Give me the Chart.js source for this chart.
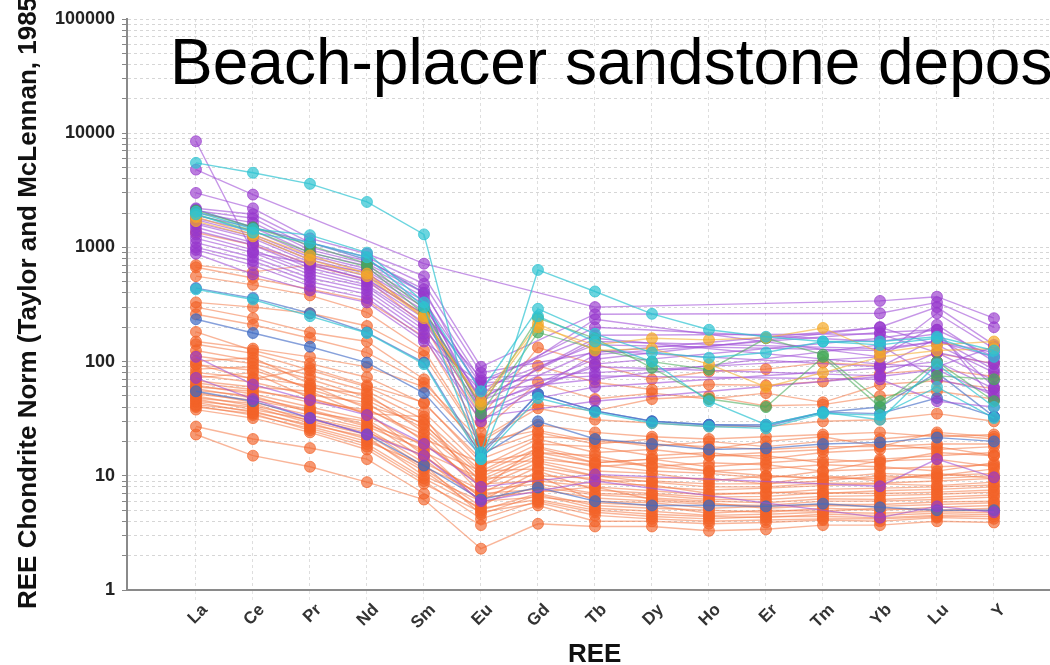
<!DOCTYPE html>
<html lang="en">
<head>
<meta charset="UTF-8">
<title>Beach-placer sandstone deposits - REE</title>
<script src="https://cdn.jsdelivr.net/npm/chart.js@4"></script>
<style>
  html, body { margin: 0; padding: 0; background: #fff; overflow: hidden; }
  #wrap { position: relative; width: 1050px; height: 665px; overflow: hidden; }
  #chart { position: absolute; left: 0; top: 0; }
  .txt { position: absolute; white-space: nowrap; font-family: "Liberation Sans", Arial, sans-serif; color: #000; line-height: 1; }
  #title { left: 170px; top: 30px; font-size: 64px; }
  #ytitle { left: 14px; top: 609px; font-size: 26px; font-weight: bold; color: #111; transform-origin: 0 0; transform: rotate(-90deg); }
  #xtitle { left: 568px; top: 640px; font-size: 26px; font-weight: bold; color: #111; }
</style>
</head>
<body>
<div id="wrap">
  <canvas id="chart" width="1110" height="665"></canvas>
  <div class="txt" id="title">Beach-placer sandstone deposits</div>
  <div class="txt" id="ytitle">REE Chondrite Norm (Taylor and McLennan, 1985)</div>
  <div class="txt" id="xtitle">REE</div>
</div>
<script>
// elements on the x axis
const categories = ['La', 'Ce', 'Pr', 'Nd', 'Sm', 'Eu', 'Gd', 'Tb', 'Dy', 'Ho', 'Er', 'Tm', 'Yb', 'Lu', 'Y'];
// labelled decades on the log axis
const yTickLabels = [1, 10, 100, 1000, 10000, 100000];

// one row per sample, values in category order (null = not analysed)
const cyanSeries = [
  [5500, 4500, 3600, 2500, 1300, 16, 635, 411, 262, 190, 165, 150, 140, 160, 110],
  [2050, 1450, 1280, 900, 330, 55, 290, 175, 120, 108, 120, 150, 150, 165, 125],
  [1950, 1350, 1100, 820, 300, 14, 250, 150, 100, 45, 28, 36, 31, 95, 40],
  [430, 350, 250, 178, 95, 14, 48, 36, 29, 27, 26, 35, 34, 60, 32]
];
const yellowSeries = [
  [1850, 1300, 850, 590, 250, 42, 200, 140, 160, 155, 162, 197, 120, 140, 150],
  [1700, 1250, 780, 560, 240, 45, 215, 125, 130, 95, 60, 80, 110, 125, 130]
];
const greenSeries = [
  [2100, 1500, 1040, 720, 290, 40, 240, 160, 88, 47, 40, 110, 40, 100, 45],
  [1950, 1400, 900, 680, 260, 35, 180, 130, 100, 85, 160, 115, 45, 75, 70]
];
const purpleSeries = [
  [8500, 900, 720, 520, 260, 48, null, 150, null, null, null, null, 130, 150, 110],
  [4800, 2900, null, null, 720, null, null, 300, null, null, null, null, 340, 370, 240],
  [3000, 2200, 1200, 880, 560, 90, null, 260, null, null, null, null, 265, 330, 200],
  [2200, 1950, 1100, 820, 480, 80, null, 120, null, null, null, null, 200, 300, 140],
  [2100, 1800, 1000, 760, 430, 52, null, 235, null, null, null, null, 110, 265, 130],
  [2000, 1650, 950, 720, 400, 68, null, 170, null, null, null, null, 175, 120, 95],
  [1900, 1500, 900, 690, 370, 36, null, 95, null, null, null, null, 160, 190, 110],
  [1800, 1400, 860, 650, 340, 63, null, 200, null, null, null, null, 150, 175, 60],
  [1750, 1300, 820, 620, 320, 45, null, 125, null, null, null, null, 90, 160, 85],
  [1650, 1250, 780, 590, 300, 58, null, 140, null, null, null, null, 125, 150, 120],
  [1600, 1200, 740, 560, 280, 40, null, 105, null, null, null, null, 200, 140, 80],
  [1500, 1100, 700, 530, 260, 72, null, 80, null, null, null, null, 110, 210, 100],
  [1400, 1050, 660, 500, 240, 42, null, 90, null, null, null, null, 75, 120, 68],
  [1300, 950, 620, 470, 220, 47, null, 160, null, null, null, null, 95, 90, 135],
  [1200, 900, 580, 450, 205, 38, null, 60, null, null, null, null, 88, 100, 58],
  [1100, 820, 540, 420, 190, 55, null, 70, null, null, null, null, 140, 70, 54],
  [1000, 760, 500, 390, 175, 33, null, 45, null, null, null, null, 74, 85, 50],
  [950, 700, 460, 360, 160, 30, null, 115, null, null, null, null, 180, 190, 46],
  [880, 580, 420, 330, 150, 65, null, 75, null, null, null, null, 70, 45, 40],
  [110, 63, 46, 34, 19, 8, null, 10.3, null, null, null, null, 8.1, 14, 9.7],
  [72, 47, 32, 23, 15, 6, null, 9, null, null, null, null, 4.3, 5.4, 4.8]
];
const blueSeries = [
  [440, 360, 265, 180, 98, 15, 52, 37, 30, 28, 27, 36, 35, 48, 33],
  [235, 178, 135, 98, 53, 15, 30, 21, 19, 17, 17.4, 19, 19.6, 21.6, 20],
  [2150, 1500, 1100, 780, 400, 16, 52, 37, 30, 28, 28, 36, 40, 80, 33],
  [55, 45, 32, 23, 12.3, 6.2, 7.9, 6, 5.5, 5.5, 5.4, 5.7, 5.3, 5, 5]
];
const orangeSeries = [
  [1350, 1050, 720, 610, 240, 33, 133, 95, 70, 82, 86, 98, 92, 118, 96],
  [700, 610, 700, 520, 210, 29, 92, 66, 57, 63, 62, 67, 78, 86, 74],
  [670, 540, 430, 340, 165, 24, 66, 47, 53, 47, 53, 44, 63, 68, 58],
  [560, 470, 380, 270, 125, 21, 42, 37, 47, 50, 41, 42, 50, 55, 47],
  [330, 300, 265, 205, 112, 20, 39, 31, 29, 27, 27, 30, 31, 35, 30],
  [300, 240, 180, 150, 70, 16, 24, 19, 21, 17, 20, 22, 18, 24, 22],
  [260, 210, 160, 120, 65, 20, 25, 20, 19, 18, 17, 18, 18, 19, 19],
  [182, 125, 96, 73, 43, 14, 22, 21, 18, 20, 18, 20, 21, 23, 21],
  [150, 130, 110, 90, 60, 18, 28, 24, 22, 21, 22, 23, 24, 22, 23],
  [142, 118, 84, 60, 36, 12, 21, 16, 17, 15, 16, 17, 19, 17, 18],
  [125, 102, 76, 55, 31, 11, 19, 18, 15, 16, 14, 16, 17, 18, 15],
  [112, 96, 70, 49, 28, 10.5, 17.5, 13, 14, 12, 13, 14, 13, 16, 15],
  [101, 108, 64, 46, 26, 9.8, 16, 15, 12, 13, 12.5, 11, 13.5, 14, 12],
  [95, 70, 88, 62, 44, 13, 16, 13, 14, 15, 15, 13, 14, 15, 16],
  [94, 84, 59, 52, 24, 9.2, 15, 12, 13, 11, 11.5, 12.5, 12, 11, 13],
  [86, 90, 57, 41, 29, 8.7, 14, 12.5, 11, 10.5, 9.5, 11, 11.5, 12, 12.5],
  [80, 72, 62, 39, 21, 13, 13.5, 11, 10.5, 9, 10, 9.5, 10.5, 10, 11.5],
  [76, 66, 51, 44, 20, 8, 13, 10, 9.5, 9.5, 8.5, 10, 9, 10.5, 9.5],
  [72, 80, 48, 35, 33, 7.6, 18, 14, 12, 11, 10, 9.5, 9.5, 10, 10.5],
  [68, 60, 55, 34, 18, 11, 11.5, 9, 9, 8.5, 8.5, 9, 10, 9.5, 10],
  [65, 57, 44, 38, 23, 7, 12, 10, 8.8, 8, 8, 8.6, 8.6, 9, 9.5],
  [62, 52, 40, 31, 16, 9.5, 10, 9.5, 8, 7.5, 7.8, 8.2, 8.5, 8.2, 8.8],
  [60, 55, 47, 36, 15, 6.5, 9.5, 8.5, 8.3, 7, 7, 7.6, 7.8, 8, 8.3],
  [58, 48, 38, 28, 19, 8.5, 9, 8, 7.4, 6.8, 7.2, 7, 7.4, 7.6, 8],
  [56, 50, 36, 30, 14, 6, 11, 7.5, 7, 6.5, 6.6, 7.1, 7, 7.2, 7.5],
  [54, 44, 34, 26, 13, 7.5, 8.5, 7, 6.8, 6.2, 6.2, 6.6, 6.7, 6.9, 7.2],
  [52, 46, 37, 27, 17, 5.8, 8, 6.8, 6.4, 6, 5.8, 6.3, 6.2, 6.5, 6.8],
  [50, 41, 32, 25, 12, 7, 7.6, 6.4, 6, 5.6, 5.5, 6, 6, 6.2, 6.5],
  [48, 43, 30, 23, 11.5, 5.4, 10, 6, 5.8, 5.2, 5.4, 5.6, 5.6, 5.9, 6],
  [47, 38, 31, 24, 15, 6.5, 7.2, 8, 6.2, 5.8, 5.2, 5.5, 5.4, 5.6, 5.8],
  [45, 40, 29, 21, 11, 5, 7, 5.5, 5.2, 5, 4.8, 5.2, 5, 5.3, 5.5],
  [44, 36, 28, 22, 10, 6, 6.5, 5.8, 5.5, 4.7, 5, 4.9, 5.2, 5, 5.2],
  [42, 37, 27, 20, 12.5, 4.6, 6.8, 5.2, 4.9, 4.5, 4.6, 4.8, 4.7, 4.9, 5],
  [41, 34, 26, 19, 9.5, 5.2, 6.2, 5, 4.6, 4.4, 4.3, 4.6, 4.5, 4.7, 4.8],
  [40, 35, 25, 18, 9, 4.2, 6, 4.8, 4.4, 4.2, 4.4, 4.4, 4.3, 4.5, 4.6],
  [38, 32, 24, 17, 8.5, 4.8, 5.8, 4.5, 4.2, 4, 4.1, 4.2, 4.2, 4.4, 4.4],
  [27, 21, 17.5, 14, 7, 3.7, 5.5, 4, 4, 3.8, 3.9, 4.1, 4, 4.3, 4.2],
  [23, 15, 12, 8.8, 6.2, 2.3, 3.8, 3.6, 3.6, 3.3, 3.4, 3.7, 3.7, 4, 3.9]
];

// line colour, point fill
const groups = [
  [cyanSeries, 'rgba(45,195,210,0.7)', 'rgba(45,195,210,0.7)'],
  [yellowSeries, 'rgba(245,175,50,0.6)', 'rgba(245,170,40,0.7)'],
  [greenSeries, 'rgba(80,175,95,0.6)', 'rgba(70,170,90,0.7)'],
  [purpleSeries, 'rgba(160,80,215,0.6)', 'rgba(150,55,205,0.65)'],
  [blueSeries, 'rgba(70,110,200,0.65)', 'rgba(60,105,195,0.7)'],
  [orangeSeries, 'rgba(244,120,70,0.55)', 'rgba(242,98,40,0.65)']
];

const datasets = [];
groups.forEach(([rows, line, fill]) => {
  rows.forEach(row => {
    datasets.push({
      data: row.map((v, i) => ({ x: i, y: v })),
      borderColor: line,
      borderWidth: 1.4,
      backgroundColor: fill,
      pointBackgroundColor: fill,
      pointBorderColor: fill,
      pointBorderWidth: 1,
      pointRadius: 5.5,
      spanGaps: true,
      tension: 0
    });
  });
});

new Chart(document.getElementById('chart'), {
  type: 'line',
  data: { datasets: datasets },
  options: {
    responsive: false,
    animation: false,
    devicePixelRatio: 1,
    layout: { padding: { left: 0, top: 19, right: 10, bottom: 0 } },
    plugins: { legend: { display: false }, tooltip: { enabled: false } },
    scales: {
      x: {
        type: 'linear',
        min: -1.21,
        max: 15.86,
        afterBuildTicks: s => { s.ticks = categories.map((c, i) => ({ value: i })); },
        afterFit: s => { s.height = 75; },
        ticks: {
          autoSkip: false,
          minRotation: 45,
          maxRotation: 45,
          labelOffset: 9,
          padding: 0,
          color: '#333',
          font: { family: 'Liberation Sans, Arial, sans-serif', size: 17, weight: 'bold' },
          callback: v => categories[v]
        },
        grid: { color: '#dedede', tickLength: 10, tickColor: '#e6e6e6', tickBorderDash: [3, 3] },
        border: { display: true, color: '#8a8a8a', width: 2, dash: [3, 3] }
      },
      y: {
        type: 'logarithmic',
        min: 1,
        max: 100000,
        afterBuildTicks: s => {
          const t = [];
          yTickLabels.forEach(d => {
            for (let m = 1; m <= 9; m++) {
              if (d * m <= 100000) t.push({ value: d * m });
            }
          });
          s.ticks = t;
        },
        afterFit: s => { s.width = 127; },
        ticks: {
          autoSkip: false,
          padding: 7,
          color: '#222',
          font: { family: 'Liberation Sans, Arial, sans-serif', size: 18, weight: 'bold' },
          callback: v => yTickLabels.includes(v) ? String(v) : ''
        },
        grid: { color: '#d6d6d6', tickLength: 5, tickColor: '#888', tickBorderDash: [] },
        border: { display: true, color: '#8a8a8a', width: 2, dash: [3, 3] }
      }
    }
  }
});
</script>
</body>
</html>
